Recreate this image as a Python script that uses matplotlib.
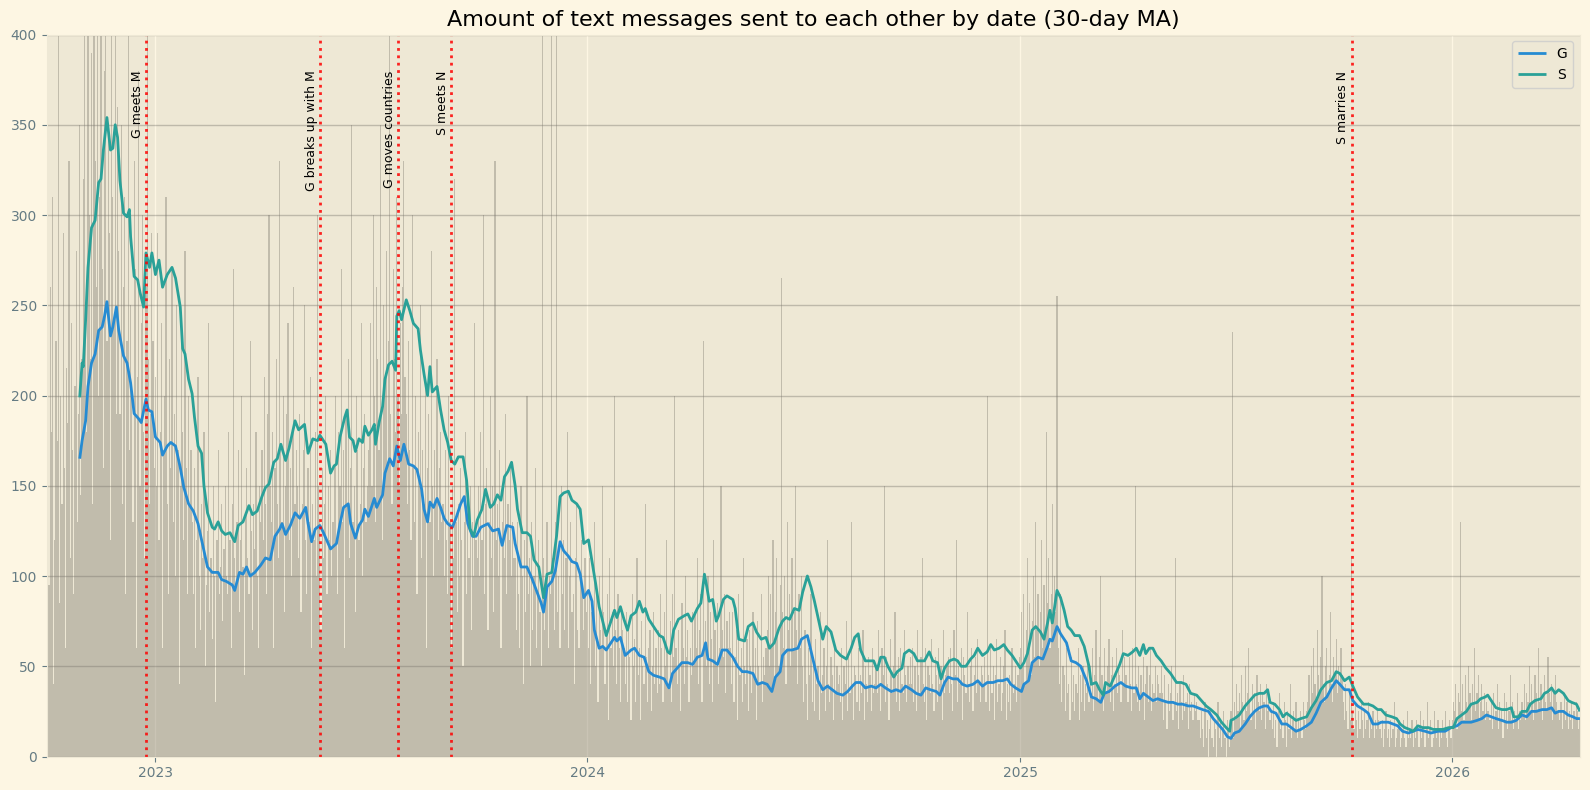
import matplotlib

matplotlib.use("Agg")
import matplotlib.dates as mdates
import matplotlib.pyplot as plt
import numpy as np
import pandas as pd

START_DATE = "2022-10-01"

# daily message counts, one row per month
daily_2022 = [
    150, 210, 95, 260, 180, 310, 40, 120, 230, 175, 400, 85, 200, 140, 290, 160, 60, 215, 185, 330, 110, 240, 170, 90, 205, 280, 130, 190, 350, 145, 220,
    320, 410, 250, 180, 450, 300, 220, 390, 140, 480, 330, 260, 420, 200, 310, 500, 270, 160, 380, 440, 230, 350, 290, 120, 460, 310, 240, 400, 190, 360,
    280, 190, 350, 140, 260, 310, 90, 230, 420, 170, 250, 200, 130, 330, 270, 60, 210, 380, 150, 240, 300, 180, 110, 260, 400, 220, 140, 190, 290, 230, 160,
]
daily_2023 = [
    210, 150, 290, 120, 180, 240, 60, 170, 200, 310, 140, 90, 220, 160, 270, 130, 190, 100, 250, 170, 40, 150, 230, 180, 120, 280, 160, 90, 200, 140, 170,
    130, 90, 160, 60, 120, 210, 100, 70, 140, 110, 180, 50, 95, 125, 240, 80, 110, 65, 150, 100, 30, 120, 170, 90, 105, 140, 75, 115,
    150, 100, 90, 180, 120, 60, 140, 270, 110, 95, 130, 170, 80, 120, 200, 105, 45, 135, 160, 110, 90, 230, 125, 70, 140, 115, 180, 100, 60, 150, 130,
    170, 120, 210, 140, 90, 190, 300, 150, 130, 180, 60, 160, 220, 140, 110, 330, 170, 130, 200, 80, 150, 190, 240, 120, 160, 100, 180, 260, 140, 170,
    150, 110, 190, 80, 140, 170, 250, 120, 90, 160, 130, 210, 60, 140, 120, 180, 100, 300, 150, 130, 70, 160, 110, 140, 200, 90, 150, 120, 170, 100, 130,
    160, 200, 120, 90, 180, 150, 270, 130, 170, 60, 190, 140, 220, 110, 160, 350, 130, 150, 80, 200, 170, 120, 140, 240, 100, 160, 190, 130, 150, 170,
    180, 240, 150, 300, 200, 130, 260, 220, 170, 350, 190, 120, 250, 210, 280, 160, 230, 400, 190, 140, 270, 220, 180, 310, 200, 150, 240, 190, 260, 330, 210,
    190, 140, 230, 170, 120, 300, 160, 130, 200, 90, 180, 150, 250, 110, 170, 140, 210, 60, 160, 190, 130, 280, 150, 100, 170, 140, 220, 120, 160, 180, 130,
    140, 100, 170, 120, 90, 200, 130, 60, 150, 110, 320, 130, 80, 140, 100, 160, 120, 50, 130, 180, 90, 140, 110, 150, 70, 130, 100, 240, 120, 110,
    150, 100, 180, 120, 300, 90, 140, 160, 70, 130, 200, 110, 150, 80, 330, 120, 140, 100, 170, 60, 130, 150, 110, 190, 90, 140, 120, 160, 100, 130, 110,
    110, 70, 130, 90, 60, 150, 100, 40, 120, 80, 200, 90, 110, 50, 130, 70, 100, 160, 60, 90, 120, 80, 50, 400, 110, 70, 90, 130, 60, 100,
    90, 420, 110, 70, 130, 400, 80, 100, 60, 150, 90, 120, 70, 110, 180, 60, 100, 130, 80, 90, 40, 110, 140, 70, 60, 100, 120, 90, 70, 110, 80,
]
daily_2024 = [
    90, 60, 110, 40, 80, 70, 130, 50, 90, 30, 100, 70, 60, 150, 80, 40, 70, 90, 20, 110, 60, 80, 50, 200, 70, 40, 90, 60, 30, 80, 70,
    60, 40, 80, 30, 70, 55, 20, 90, 50, 65, 30, 110, 45, 60, 20, 75, 50, 40, 140, 55, 30, 60, 70, 25, 50, 80, 40, 60, 35,
    70, 40, 90, 60, 30, 80, 50, 120, 60, 40, 75, 30, 90, 55, 200, 60, 40, 70, 50, 25, 85, 60, 40, 100, 55, 70, 30, 60, 45, 80, 50,
    80, 60, 110, 40, 70, 90, 30, 230, 60, 75, 50, 100, 40, 80, 65, 30, 120, 70, 50, 85, 40, 60, 150, 70, 55, 90, 35, 75, 60, 80,
    60, 40, 80, 30, 55, 70, 20, 90, 45, 60, 30, 110, 50, 40, 65, 25, 70, 50, 35, 80, 45, 60, 20, 75, 50, 40, 90, 30, 55, 45, 60,
    70, 100, 50, 90, 60, 120, 40, 80, 110, 70, 50, 95, 265, 80, 60, 100, 40, 130, 70, 90, 50, 110, 60, 80, 150, 70, 40, 90, 60, 100,
    50, 30, 70, 40, 20, 60, 45, 90, 30, 55, 25, 65, 40, 50, 20, 80, 35, 45, 60, 25, 50, 120, 40, 30, 55, 45, 20, 60, 35, 50, 40,
    45, 30, 60, 20, 50, 40, 75, 25, 55, 35, 130, 40, 20, 50, 45, 30, 60, 25, 45, 35, 70, 20, 50, 40, 30, 55, 45, 25, 60, 35, 40,
    50, 35, 70, 40, 25, 60, 45, 150, 30, 55, 40, 20, 65, 45, 35, 50, 80, 30, 45, 55, 25, 60, 40, 35, 70, 45, 30, 50, 40, 55,
    40, 60, 30, 50, 25, 70, 45, 35, 55, 110, 40, 30, 60, 20, 50, 45, 35, 65, 40, 25, 55, 45, 30, 60, 40, 50, 20, 70, 35, 45, 50,
    55, 35, 60, 40, 25, 70, 45, 120, 30, 50, 40, 60, 20, 55, 45, 35, 80, 40, 30, 50, 60, 25, 45, 55, 35, 65, 40, 30, 50, 45,
    40, 55, 30, 200, 45, 25, 60, 35, 50, 20, 45, 65, 30, 40, 55, 25, 35, 50, 70, 20, 40, 30, 45, 25, 60, 35, 40, 50, 30, 45, 55,
]
daily_2025 = [
    60, 80, 50, 90, 40, 70, 110, 60, 85, 45, 75, 100, 55, 130, 70, 90, 50, 80, 120, 60, 95, 70, 180, 85, 110, 60, 90, 140, 75, 100, 80,
    255, 60, 40, 90, 30, 50, 45, 25, 60, 35, 40, 20, 55, 30, 45, 25, 40, 35, 60, 20, 45, 30, 50, 25, 40, 35, 55, 30,
    50, 35, 60, 25, 45, 70, 40, 30, 55, 100, 45, 25, 60, 40, 35, 50, 65, 30, 45, 55, 25, 40, 60, 35, 50, 45, 30, 70, 40, 55, 45,
    45, 30, 55, 40, 25, 60, 35, 150, 40, 30, 50, 25, 45, 35, 55, 20, 40, 50, 30, 45, 60, 25, 40, 35, 50, 30, 45, 40, 35, 50,
    35, 20, 45, 30, 15, 40, 25, 35, 50, 20, 30, 110, 25, 35, 15, 40, 30, 20, 45, 25, 30, 35, 15, 40, 25, 30, 20, 35, 25, 30, 20,
    20, 10, 25, 15, 5, 30, 10, 20, 0, 15, 25, 10, 5, 20, 15, 0, 30, 10, 20, 5, 15, 25, 10, 0, 20, 15, 5, 25, 235, 10,
    30, 20, 40, 25, 35, 15, 45, 30, 20, 50, 25, 35, 60, 30, 20, 40, 25, 35, 15, 45, 30, 25, 40, 20, 35, 30, 15, 40, 25, 30, 20,
    25, 15, 30, 10, 20, 5, 25, 35, 15, 20, 10, 30, 20, 5, 25, 15, 40, 10, 20, 25, 15, 30, 10, 20, 15, 25, 10, 30, 20, 15, 25,
    30, 45, 25, 50, 35, 60, 40, 30, 70, 45, 35, 55, 100, 40, 30, 50, 60, 35, 45, 80, 40, 30, 55, 45, 65, 35, 50, 40, 60, 45,
    30, 20, 40, 25, 15, 35, 20, 110, 25, 15, 30, 20, 10, 25, 15, 30, 20, 10, 25, 15, 20, 30, 10, 20, 15, 25, 10, 20, 15, 25, 20,
    15, 10, 20, 5, 15, 25, 10, 15, 5, 20, 10, 15, 30, 5, 10, 15, 20, 5, 10, 15, 20, 10, 5, 25, 10, 15, 10, 20, 5, 15,
    10, 20, 15, 5, 25, 10, 15, 20, 5, 15, 30, 10, 15, 20, 5, 10, 25, 15, 10, 20, 5, 15, 10, 20, 15, 25, 10, 5, 15, 20, 10,
]
daily_2026 = [
    20, 30, 25, 40, 15, 35, 30, 130, 25, 40, 20, 45, 30, 25, 50, 35, 20, 40, 30, 60, 25, 35, 45, 20, 30, 40, 25, 35, 20, 30, 25,
    25, 20, 30, 15, 35, 20, 25, 40, 15, 30, 20, 25, 10, 35, 20, 30, 15, 25, 45, 20, 30, 15, 25, 20, 35, 15, 25, 20,
    30, 25, 40, 20, 35, 30, 50, 25, 40, 30, 20, 45, 35, 25, 60, 30, 40, 20, 35, 45, 30, 25, 55, 35, 30, 40, 20, 35, 45, 30, 25,
    25, 20, 30, 15, 25, 35, 20, 30, 15, 25, 20, 30, 15, 25, 20, 30, 25, 15, 20,
]

# 30-day moving averages, read as (day offset from START_DATE, value)
g_day = [
    28, 30, 33, 35, 38, 41, 44, 47, 49, 51, 54, 56, 59, 61, 65, 68, 71, 74, 78, 80, 84, 86, 89, 92, 96, 98, 102, 105, 109, 113,
    116, 120, 124, 128, 133, 136, 140, 145, 148, 152, 157, 159, 163, 166, 169, 172, 176, 181, 185, 189, 193, 197, 199, 202, 206, 210, 214, 219, 221, 224,
    227, 231, 234, 240, 245, 248, 251, 255, 257, 261, 264, 267, 269, 272, 277, 279, 284, 286, 290, 293, 296, 299, 302, 306, 310, 313, 317, 319, 322, 324,
    327, 330, 333, 336, 339, 343, 346, 350, 353, 356, 360, 363, 367, 370, 373, 377, 382, 385, 389, 394, 396, 401, 406, 410, 414, 418, 420, 423, 427, 430,
    434, 437, 441, 444, 448, 451, 454, 458, 461, 463, 467, 470, 473, 476, 480, 482, 485, 489, 494, 497, 501, 505, 509, 513, 518, 522, 526, 529, 533, 537,
    542, 546, 550, 554, 557, 559, 563, 567, 571, 575, 580, 584, 588, 592, 597, 601, 605, 609, 613, 616, 620, 622, 626, 630, 635, 638, 643, 647, 652, 656,
    660, 664, 668, 673, 677, 681, 684, 688, 692, 697, 701, 705, 709, 714, 718, 722, 726, 731, 735, 739, 743, 747, 752, 755, 759, 762, 766, 770, 774, 778,
    783, 787, 791, 795, 800, 804, 808, 812, 815, 819, 824, 826, 830, 833, 838, 842, 846, 848, 850, 854, 857, 862, 866, 870, 874, 879, 883, 887, 891, 894,
    898, 903, 908, 912, 917, 921, 924, 927, 931, 935, 939, 943, 948, 952, 956, 960, 965, 969, 973, 977, 982, 986, 990, 994, 998, 1001, 1004, 1008, 1013, 1017,
    1021, 1025, 1029, 1032, 1035, 1039, 1044, 1048, 1052, 1056, 1060, 1065, 1069, 1073, 1077, 1082, 1086, 1090, 1093, 1097, 1101, 1104, 1108, 1113, 1117, 1121, 1125, 1128, 1134, 1138,
    1142, 1146, 1151, 1155, 1159, 1165, 1170, 1176, 1182, 1187, 1192, 1196, 1200, 1204, 1209, 1213, 1217, 1221, 1225, 1230, 1234, 1238, 1242, 1247, 1251, 1255, 1259, 1264, 1268, 1272,
    1275, 1278, 1282, 1286, 1290, 1293, 1296,
]
g_ma = [
    165, 175, 186, 205, 218, 223, 236, 238, 244, 252, 233, 238, 249, 236, 222, 218, 207, 190, 187, 185, 198, 192, 191, 177, 174, 167, 172, 174, 172, 160,
    149, 140, 136, 129, 114, 105, 102, 102, 98, 97, 95, 92, 102, 101, 105, 100, 102, 106, 110, 109, 122, 126, 129, 123, 128, 135, 132, 138, 129, 119,
    126, 128, 124, 115, 118, 129, 138, 140, 129, 121, 128, 131, 137, 133, 143, 138, 145, 157, 165, 161, 172, 164, 173, 162, 161, 159, 148, 137, 130, 141,
    138, 143, 138, 132, 129, 127, 132, 140, 144, 129, 122, 122, 127, 128, 129, 125, 126, 117, 128, 127, 118, 105, 105, 99, 92, 85, 80, 94, 97, 103,
    119, 114, 111, 108, 107, 101, 88, 92, 86, 70, 60, 61, 59, 62, 66, 64, 66, 56, 59, 60, 56, 55, 47, 45, 44, 43, 38, 46, 49, 52,
    52, 51, 55, 56, 63, 54, 53, 51, 59, 59, 55, 50, 47, 47, 46, 40, 41, 40, 36, 44, 47, 56, 59, 59, 60, 65, 67, 56, 42, 37,
    39, 37, 35, 34, 36, 39, 41, 41, 38, 39, 38, 40, 38, 36, 37, 36, 39, 37, 35, 34, 38, 37, 36, 34, 41, 44, 43, 43, 40, 39,
    40, 42, 39, 41, 41, 42, 42, 43, 40, 38, 36, 40, 42, 52, 55, 54, 61, 65, 64, 72, 68, 63, 53, 52, 50, 42, 33, 32, 30, 35,
    36, 39, 41, 39, 38, 38, 32, 35, 33, 31, 32, 31, 30, 30, 29, 29, 28, 28, 27, 26, 25, 21, 18, 15, 11, 10, 13, 14, 18, 22,
    25, 27, 28, 28, 25, 24, 18, 18, 16, 14, 15, 17, 19, 24, 30, 33, 38, 42, 40, 37, 37, 31, 28, 26, 24, 18, 18, 19, 19, 18,
    17, 14, 13, 14, 15, 14, 13, 14, 14, 16, 17, 19, 19, 19, 20, 21, 23, 22, 21, 20, 19, 19, 20, 23, 22, 25, 25, 26, 26, 27,
    24, 25, 25, 23, 22, 21, 21,
]
s_day = [
    28, 30, 31, 33, 35, 38, 41, 44, 46, 48, 51, 54, 56, 58, 60, 62, 65, 68, 70, 71, 74, 77, 79, 82, 84, 87, 89, 92, 95, 98,
    102, 106, 109, 113, 115, 117, 120, 123, 125, 128, 131, 133, 136, 140, 142, 145, 148, 151, 155, 159, 162, 166, 171, 174, 178, 182, 185, 188, 192, 195,
    198, 202, 205, 210, 213, 218, 221, 225, 229, 231, 236, 240, 243, 245, 248, 252, 254, 256, 259, 261, 264, 267, 269, 272, 275, 277, 278, 281, 284, 286,
    289, 292, 295, 296, 298, 300, 304, 307, 310, 314, 316, 319, 322, 324, 326, 330, 333, 336, 339, 342, 345, 348, 352, 355, 358, 361, 364, 368, 371, 375,
    378, 381, 384, 387, 390, 393, 396, 398, 402, 406, 409, 412, 416, 420, 423, 427, 431, 434, 437, 441, 444, 448, 451, 454, 458, 461, 464, 467, 470, 473,
    476, 480, 482, 485, 488, 491, 494, 498, 501, 504, 506, 509, 513, 518, 521, 525, 527, 530, 534, 539, 542, 545, 550, 553, 556, 558, 560, 563, 566, 568,
    572, 575, 580, 582, 585, 590, 593, 597, 600, 604, 608, 611, 615, 619, 622, 625, 628, 632, 636, 639, 643, 646, 649, 652, 656, 659, 663, 667, 671, 676,
    680, 683, 686, 688, 692, 695, 699, 702, 705, 708, 711, 716, 719, 723, 725, 729, 733, 736, 739, 742, 746, 749, 753, 756, 759, 763, 767, 770, 773, 777,
    781, 784, 787, 791, 795, 798, 801, 805, 809, 812, 816, 819, 823, 826, 829, 833, 836, 840, 843, 846, 848, 850, 854, 857, 860, 863, 866, 869, 873, 877,
    881, 883, 887, 890, 893, 895, 899, 903, 907, 910, 914, 918, 921, 924, 927, 929, 932, 935, 938, 942, 946, 950, 955, 959, 963, 967, 972, 976, 980, 984,
    989, 993, 997, 1000, 1001, 1004, 1008, 1013, 1017, 1021, 1025, 1029, 1032, 1034, 1038, 1042, 1045, 1048, 1052, 1056, 1060, 1065, 1069, 1073, 1077, 1082, 1086, 1090, 1093, 1097,
    1101, 1104, 1108, 1113, 1117, 1121, 1125, 1128, 1132, 1137, 1141, 1144, 1148, 1152, 1155, 1159, 1163, 1168, 1172, 1176, 1180, 1185, 1189, 1192, 1196, 1200, 1204, 1209, 1212, 1216,
    1218, 1221, 1225, 1230, 1234, 1238, 1240, 1244, 1247, 1251, 1254, 1258, 1263, 1266, 1269, 1272, 1275, 1278, 1282, 1286, 1289, 1293, 1296,
]
s_ma = [
    199, 218, 216, 242, 271, 293, 297, 318, 320, 336, 354, 336, 337, 350, 343, 319, 301, 299, 303, 288, 266, 264, 257, 249, 279, 271, 279, 267, 275, 260,
    267, 271, 265, 249, 226, 223, 209, 201, 188, 172, 168, 150, 135, 127, 126, 130, 125, 123, 124, 119, 128, 130, 139, 134, 136, 144, 149, 151, 163, 165,
    173, 164, 171, 186, 181, 184, 168, 176, 175, 178, 173, 157, 161, 162, 177, 188, 192, 177, 175, 169, 176, 174, 183, 178, 181, 184, 173, 185, 194, 209,
    217, 219, 214, 244, 247, 242, 253, 247, 240, 237, 225, 212, 200, 216, 202, 205, 192, 181, 174, 164, 162, 166, 166, 153, 126, 122, 131, 137, 148, 138,
    140, 145, 142, 155, 158, 163, 150, 137, 124, 124, 122, 109, 105, 88, 101, 102, 122, 144, 146, 147, 142, 140, 137, 118, 120, 108, 96, 83, 75, 67,
    73, 81, 77, 83, 76, 70, 78, 80, 86, 80, 82, 76, 72, 67, 66, 58, 57, 70, 76, 78, 79, 75, 82, 85, 101, 94, 86, 87, 75, 78,
    87, 89, 87, 82, 65, 64, 72, 74, 69, 65, 66, 60, 63, 71, 75, 77, 76, 82, 81, 91, 100, 94, 86, 77, 65, 72, 69, 59, 56, 54,
    60, 66, 68, 59, 53, 53, 53, 48, 55, 55, 50, 44, 47, 49, 57, 59, 57, 53, 53, 53, 58, 53, 52, 43, 49, 53, 54, 53, 50, 50,
    54, 56, 60, 56, 58, 62, 59, 60, 62, 59, 56, 53, 49, 52, 57, 70, 72, 69, 65, 74, 81, 74, 92, 88, 81, 72, 70, 67, 67, 61,
    50, 40, 41, 37, 34, 41, 39, 45, 51, 57, 56, 58, 60, 56, 62, 57, 60, 60, 56, 53, 49, 46, 41, 41, 40, 35, 34, 31, 28, 26,
    23, 19, 16, 14, 20, 21, 23, 28, 31, 34, 35, 35, 37, 30, 29, 26, 22, 24, 22, 20, 21, 22, 27, 31, 37, 41, 42, 47, 46, 42,
    44, 39, 33, 29, 29, 28, 26, 26, 23, 22, 21, 18, 16, 15, 14, 17, 16, 16, 15, 15, 15, 16, 16, 21, 23, 25, 29, 30, 32, 33,
    34, 31, 27, 26, 26, 27, 22, 22, 25, 25, 29, 31, 32, 35, 36, 38, 35, 37, 35, 31, 30, 29, 25,
]

event_dates = ["2022-12-24", "2023-05-20", "2023-07-25", "2023-09-08", "2025-10-08"]
event_labels = ["G meets M", "G breaks up with M", "G moves countries", "S meets N", "S marries N"]

Y_MAX = 400
LABEL_Y = 380


def to_dates(days: list[int]) -> pd.DatetimeIndex:
    """Turn day offsets from START_DATE into dates."""
    return pd.Timestamp(START_DATE) + pd.to_timedelta(np.asarray(days), unit="D")


def plot_chart() -> None:
    """Draw the daily bars, the moving averages and the event markers."""
    plt.style.use("Solarize_Light2")
    fig, ax = plt.subplots(figsize=(15.9, 7.9), dpi=100)
    fig.subplots_adjust(left=0.0293, right=0.9937, top=0.9563, bottom=0.0424)

    daily = daily_2022 + daily_2023 + daily_2024 + daily_2025 + daily_2026
    bar_dates = to_dates(list(range(len(daily))))
    ax.bar(bar_dates, daily, width=1.0, color="#7f7a70", alpha=0.4, linewidth=0)

    ax.plot(to_dates(g_day), g_ma, color="#268BD2", linewidth=2, label="G")
    ax.plot(to_dates(s_day), s_ma, color="#2AA198", linewidth=2, label="S")

    for date, label in zip(event_dates, event_labels):
        d = pd.Timestamp(date)
        ax.axvline(d, color="red", linestyle=":", linewidth=2, alpha=0.85)
        ax.text(d - pd.Timedelta(days=2), LABEL_Y, label, rotation=90,
                ha="right", va="top", fontsize=9, color="black")

    ax.set_ylim(0, Y_MAX)
    ax.set_yticks(range(0, Y_MAX + 1, 50))
    ax.set_xlim(bar_dates[0], bar_dates[-1])
    ax.xaxis.set_major_locator(mdates.YearLocator())
    ax.xaxis.set_major_formatter(mdates.DateFormatter("%Y"))
    ax.yaxis.grid(True, color="black", alpha=0.2, linewidth=1)

    ax.set_title("Amount of text messages sent to each other by date (30-day MA)", fontsize=16)
    ax.legend(loc="upper right")

    fig.savefig("out.png")


if __name__ == "__main__":
    plot_chart()
